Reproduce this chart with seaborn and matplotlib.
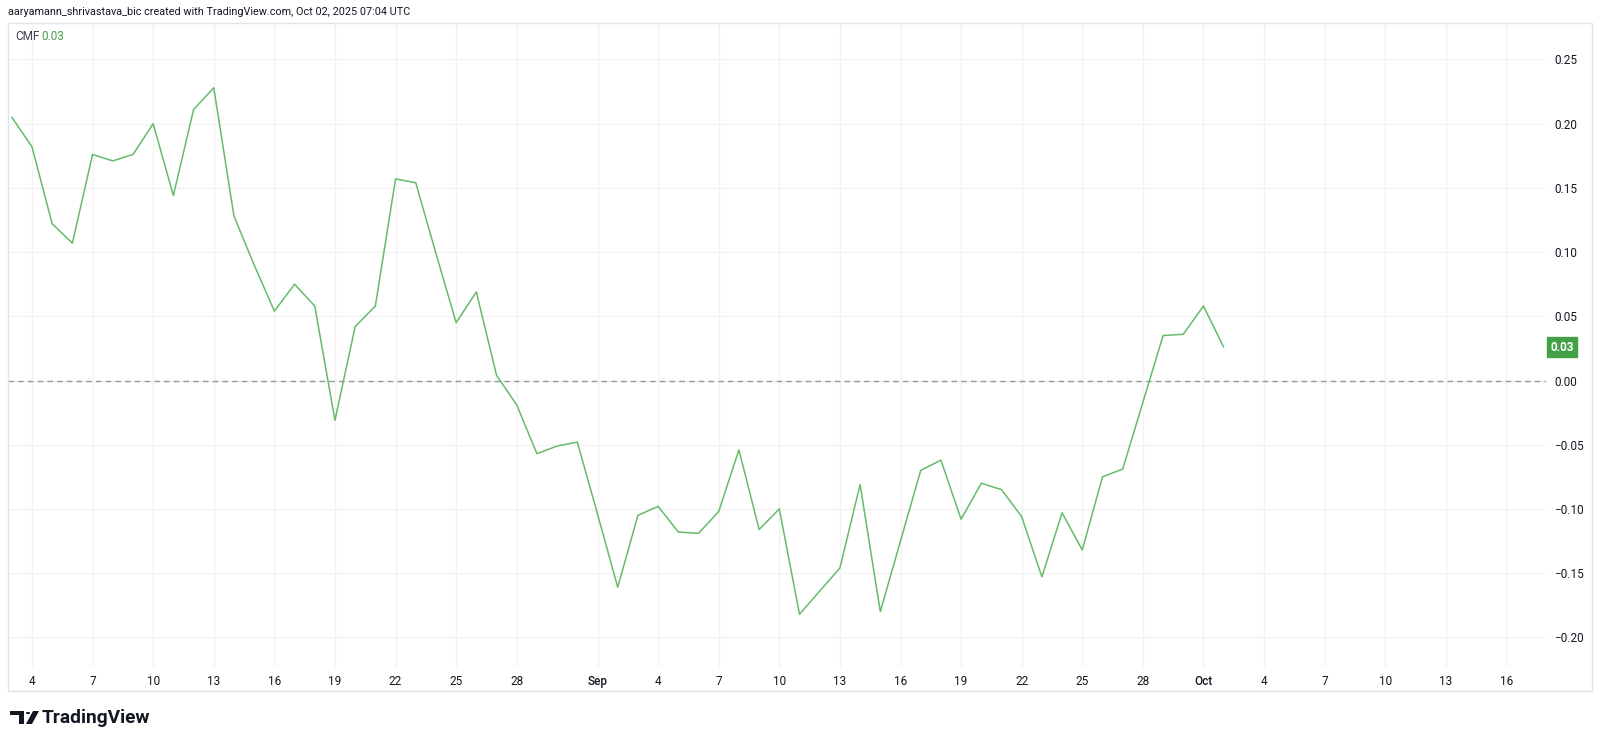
import numpy as np
import pandas as pd
import seaborn as sns
import matplotlib
matplotlib.use("Agg")
import matplotlib.pyplot as plt
from matplotlib.patches import Rectangle, Polygon, Circle

# CMF daily values, Aug 3 -> Oct 2 2025
start_date = "2025-08-03"
cmf_values = [
    0.205, 0.182, 0.122, 0.107, 0.176, 0.171, 0.176, 0.200, 0.144, 0.211,
    0.228, 0.128, 0.090, 0.054, 0.075, 0.058, -0.031, 0.042, 0.058, 0.157,
    0.154, 0.099, 0.045, 0.069, 0.004, -0.019, -0.057, -0.051, -0.048, -0.104,
    -0.161, -0.105, -0.098, -0.118, -0.119, -0.102, -0.054, -0.116, -0.100, -0.182,
    -0.164, -0.146, -0.081, -0.180, -0.125, -0.070, -0.062, -0.108, -0.080, -0.085,
    -0.106, -0.153, -0.103, -0.132, -0.075, -0.069, -0.017, 0.035, 0.036, 0.058,
    0.026,
]
y_ticks = [-0.20, -0.15, -0.10, -0.05, 0.00, 0.05, 0.10, 0.15, 0.20, 0.25]
x_tick_dates = ["2025-08-04", "2025-08-07", "2025-08-10", "2025-08-13", "2025-08-16",
                "2025-08-19", "2025-08-22", "2025-08-25", "2025-08-28", "2025-09-01",
                "2025-09-04", "2025-09-07", "2025-09-10", "2025-09-13", "2025-09-16",
                "2025-09-19", "2025-09-22", "2025-09-25", "2025-09-28", "2025-10-01",
                "2025-10-04", "2025-10-07", "2025-10-10", "2025-10-13", "2025-10-16"]
header = "aaryamann_shrivastava_bic created with TradingView.com, Oct 02, 2025 07:04 UTC"

df = pd.DataFrame({
    "date": pd.date_range(start_date, periods=len(cmf_values), freq="D"),
    "cmf": cmf_values,
})
last_val = df["cmf"].iloc[-1]

sns.set_style("white")
plt.rcParams["font.family"] = ["Roboto", "DejaVu Sans"]

W, H = 1600, 744
fig = plt.figure(figsize=(16, 7.44), dpi=100)
# plot pane in pixel terms: x 8..1546, y 23..667
ax = fig.add_axes([8 / W, 1 - 667 / H, (1546 - 8) / W, (667 - 23) / H])

green = "#43a047"
text_col = "#131722"
grid_col = "#f2f2f3"

sns.lineplot(data=df, x="date", y="cmf", ax=ax, color="#66bb6a", linewidth=1.1)
ax.axhline(0, color="#9598a1", linewidth=1, linestyle=(0, (4, 3)), zorder=1)

ax.set_xlim(pd.Timestamp("2025-08-02 19:30"), pd.Timestamp("2025-10-17 23:00"))
ax.set_ylim(-0.2231, 0.2784)

tick_dates = pd.to_datetime(x_tick_dates)
ax.set_xticks(tick_dates)
labels = []
for d in tick_dates:
    labels.append(d.strftime("%b") if d.day == 1 else str(d.day))
ax.set_xticklabels(labels)
for lbl, d in zip(ax.get_xticklabels(), tick_dates):
    lbl.set_color(text_col if d.day == 1 else "#3a3e4a")
    if d.day == 1:
        lbl.set_fontweight("medium")

ax.set_yticks(y_ticks)
ax.set_yticklabels([f"{v:.2f}".replace("-", "\u2212") for v in y_ticks])
ax.yaxis.tick_right()
ax.tick_params(axis="both", length=0, labelsize=8.5, colors=text_col)
ax.tick_params(axis="y", pad=6)
ax.tick_params(axis="x", pad=6)
ax.grid(True, color=grid_col, linewidth=1)
ax.set_axisbelow(True)
for s in ax.spines.values():
    s.set_visible(False)
ax.set_xlabel("")
ax.set_ylabel("")

# last value badge on the price scale
ax.annotate(f"{last_val:.2f}", xy=(1.0, last_val), xycoords=("axes fraction", "data"),
            xytext=(3, 0), textcoords="offset points", ha="left", va="center",
            fontsize=8.5, color="white", fontweight="bold",
            bbox=dict(boxstyle="square,pad=0.3", fc=green, ec=green))

# outer frame of the chart pane
fig.add_artist(Rectangle((8 / W, 1 - 691 / H), (1592 - 8) / W, (691 - 23) / H,
                         transform=fig.transFigure, fill=False, ec="#e0e3eb", lw=1))

fig.text(8 / W, 1 - 12 / H, header, fontsize=7.8, color=text_col, va="center", ha="left")
fig.text(15 / W, 1 - 36 / H, "CMF", fontsize=8.5, color="#3a3e4a", va="center", ha="left")
fig.text(41 / W, 1 - 36 / H, f"{last_val:.2f}", fontsize=8.5, color=green, va="center", ha="left")

# TradingView logo
def px(x, y):
    return (x / W, 1 - y / H)

logo_col = "#131722"
fig.add_artist(Polygon([px(10, 711), px(24, 711), px(24, 724), px(19, 724), px(19, 715), px(10, 715)],
                       closed=True, transform=fig.transFigure, fc=logo_col, ec="none"))
fig.add_artist(Circle(px(28, 713), 2.2 / W, transform=fig.transFigure, fc=logo_col, ec="none"))
fig.add_artist(Polygon([px(33, 711), px(39, 711), px(32, 724), px(26, 724)],
                       closed=True, transform=fig.transFigure, fc=logo_col, ec="none"))
fig.text(42 / W, 1 - 718 / H, "TradingView", fontsize=13.8, fontweight="bold",
         color=logo_col, va="center", ha="left")

fig.savefig("out.png", dpi=100, facecolor="white")
